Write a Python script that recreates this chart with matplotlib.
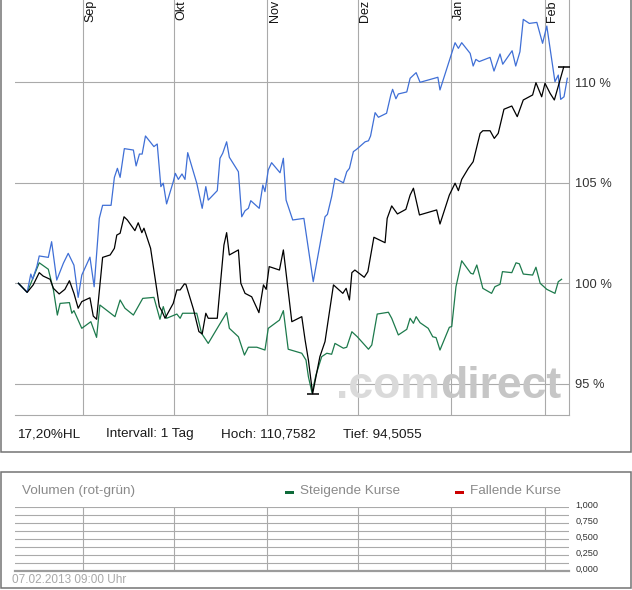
import matplotlib
matplotlib.use("Agg")
import matplotlib.pyplot as plt
import numpy as np
import pandas as pd
from matplotlib.patches import Rectangle
from matplotlib.transforms import ScaledTranslation

plt.rcParams['font.family'] = ['Liberation Sans', 'DejaVu Sans']

# ---------------- data (x = days since 2012-09-01, values in %) ----------------
origin = pd.Timestamp('2012-09-01')

blue_days = [-21.5, -18.6, -17.4, -16.8, -15.4, -14.6, -11.6, -10.5, -8.8, -6.6,
             -5.0, -3.1, -1.7, -0.5, 2.2, 3.6, 5.3, 6.4, 9.2, 10.3,
             11.3, 12.2, 13.6, 16.6, 17.5, 18.6, 19.5, 20.6, 23.4, 24.5,
             25.7, 26.5, 27.6, 29.8, 30.5, 31.5, 32.7, 33.7, 34.6, 37.6,
             39.4, 40.6, 41.4, 44.4, 45.3, 46.2, 47.5, 48.4, 51.4, 52.5,
             53.6, 54.7, 55.5, 58.3, 59.5, 60.2, 61.3, 62.4, 65.2, 66.3,
             67.2, 69.4, 73.1, 76.2, 80.1, 80.9, 82.3, 83.4, 86.2, 87.3,
             88.2, 89.5, 90.6, 93.4, 94.5, 95.2, 96.7, 97.8, 100.5, 101.9,
             102.5, 103.6, 104.4, 107.2, 108.3, 110.3, 111.6, 117.5, 118.2, 123.2,
             124.3, 125.4, 128.2, 129.2, 130.1, 131.2, 134.8, 136.1, 138.1, 139.0,
             142.1, 143.3, 144.7, 145.8, 147.8, 150.3, 152.2, 153.6, 156.3, 157.4,
             158.2, 159.3, 160.4]
blue_vals = [100.0, 99.55, 100.46, 100.2, 100.83, 101.36, 101.29, 102.07, 100.16, 101.0,
             101.49, 100.9, 99.3, 100.41, 101.3, 99.83, 103.23, 103.88, 103.88, 105.27,
             105.72, 105.27, 106.7, 106.63, 105.84, 106.43, 106.43, 107.33, 106.8, 106.93,
             104.81, 104.98, 103.95, 105.05, 105.47, 105.17, 105.44, 105.17, 106.5, 104.98,
             103.73, 104.81, 104.14, 104.61, 106.22, 106.47, 107.04, 106.27, 105.55, 103.31,
             103.61, 103.73, 104.11, 103.73, 104.89, 104.56, 105.64, 106.0, 105.5, 106.22,
             104.14, 103.15, 103.23, 100.08, 103.31, 103.43, 104.31, 105.22, 105.0, 105.55,
             105.72, 106.55, 106.67, 107.04, 107.09, 107.33, 108.49, 108.26, 108.46, 109.37,
             109.65, 109.18, 109.42, 109.52, 110.2, 110.48, 110.0, 110.25, 109.62, 111.97,
             111.69, 111.97, 111.44, 110.81, 111.14, 111.03, 111.24, 110.56, 111.41, 110.9,
             111.57, 110.81, 111.52, 113.13, 112.93, 112.98, 111.94, 112.8, 110.03, 110.36,
             109.15, 109.28, 110.2]

black_days = [-21.5, -18.6, -16.6, -14.6, -13.3, -11.0, -9.9, -8.0, -6.1, -4.6,
              -3.1, -1.7, -0.5, 2.2, 3.3, 4.4, 6.4, 8.9, 10.3, 11.1,
              12.2, 13.5, 14.6, 17.1, 18.2, 19.4, 20.1, 22.3, 25.2, 26.1,
              27.1, 29.8, 31.0, 32.1, 33.5, 34.0, 36.5, 38.3, 39.4, 40.6,
              41.4, 44.4, 46.6, 47.5, 48.4, 51.4, 52.2, 53.6, 55.8, 58.2,
              59.7, 60.6, 61.6, 65.0, 66.3, 69.1, 72.4, 73.5, 74.6, 76.0,
              78.4, 80.1, 82.9, 86.0, 87.1, 88.2, 89.0, 90.0, 93.1, 94.3,
              96.3, 100.0, 100.7, 102.2, 104.1, 106.9, 108.3, 109.4, 111.4, 117.1,
              118.2, 121.3, 123.2, 124.3, 125.4, 127.6, 129.2, 131.5, 132.4, 134.8,
              136.2, 137.5, 139.4, 142.0, 143.8, 145.8, 148.9, 150.0, 151.9, 153.0,
              154.7, 156.1, 159.2]
black_vals = [100.0, 99.55, 99.92, 100.53, 100.36, 100.2, 99.75, 99.47, 99.7, 100.13,
              99.5, 98.76, 99.09, 99.28, 98.37, 98.21, 101.29, 101.41, 101.74, 102.40,
              102.49, 103.31, 103.15, 102.62, 103.01, 102.52, 102.74, 101.74, 98.84, 98.6,
              98.26, 99.0, 99.67, 99.67, 99.97, 99.95, 98.71, 97.6, 97.48, 98.51,
              98.26, 98.26, 101.9, 102.52, 101.41, 101.66, 100.0, 99.5, 99.33, 98.54,
              99.92, 99.7, 100.83, 100.66, 101.66, 98.09, 98.34, 97.18, 96.18, 94.5055,
              96.35, 97.1, 99.92, 99.5, 99.75, 99.17, 100.53, 100.66, 100.30, 100.58,
              102.29, 102.02, 103.23, 103.85, 103.45, 103.68, 104.39, 104.73, 103.40, 103.65,
              102.95, 104.39, 104.98, 104.61, 105.17, 105.72, 106.05, 107.46, 107.59, 107.59,
              107.21, 107.46, 108.66, 108.82, 108.29, 109.12, 109.37, 109.98, 109.28, 109.95,
              109.45, 109.12, 110.7582]

green_days = [-21.5, -18.6, -14.6, -11.6, -9.9, -8.6, -7.7, -4.6, -3.8, -3.1,
              -0.5, 2.5, 4.4, 5.5, 10.5, 12.2, 13.8, 16.6, 19.7, 23.4,
              25.4, 26.5, 27.6, 31.0, 32.1, 32.9, 37.6, 39.2, 41.4, 44.7,
              47.5, 48.4, 51.4, 53.4, 54.7, 57.5, 60.2, 61.3, 65.0, 66.3,
              67.9, 72.4, 73.8, 74.6, 75.8, 77.1, 79.0, 80.7, 82.3, 83.4,
              86.2, 87.3, 89.0, 90.8, 94.5, 95.6, 97.4, 101.1, 102.2, 104.4,
              107.2, 108.3, 109.4, 110.3, 111.6, 114.3, 115.8, 116.9, 118.2, 121.3,
              122.1, 123.5, 125.4, 128.4, 129.2, 130.4, 132.4, 135.3, 136.4, 138.1,
              138.9, 142.0, 143.4, 144.5, 145.8, 148.9, 150.0, 151.4, 153.6, 156.3,
              157.4, 158.5]
green_vals = [100.0, 99.55, 101.02, 100.70, 99.67, 98.42, 99.0, 99.04, 98.51, 98.64,
              97.76, 98.09, 97.31, 98.92, 98.34, 99.17, 98.76, 98.42, 99.25, 99.30,
              98.21, 98.84, 98.26, 98.47, 98.26, 98.51, 98.51, 97.51, 97.01, 97.84,
              98.54, 97.76, 97.34, 96.43, 96.82, 96.82, 96.68, 97.76, 98.17, 98.64,
              96.72, 96.52, 96.18, 95.35, 94.55, 95.44, 96.35, 96.52, 96.47, 97.01,
              96.77, 96.82, 97.59, 97.34, 96.72, 96.93, 98.47, 98.56, 98.26, 97.43,
              97.71, 98.26, 98.01, 98.34, 98.04, 97.76, 97.34, 97.30, 96.68, 97.81,
              97.85, 99.83, 101.12, 100.5, 100.46, 100.91, 99.75, 99.5, 99.83, 99.95,
              100.58, 100.53, 101.02, 100.97, 100.46, 100.41, 100.8, 100.0, 99.7, 99.5,
              100.08, 100.2]

month_labels = ['Sep', 'Okt', 'Nov', 'Dez', 'Jan', 'Feb']
month_starts = pd.date_range('2012-09-01', '2013-02-01', freq='MS')
month_days = [(m - origin).days for m in month_starts]

pct_ticks = [95, 100, 105, 110]
pct_labels = ['95 %', '100 %', '105 %', '110 %']
vol_ticks = [0.0, 0.25, 0.5, 0.75, 1.0]
vol_labels = ['0,000', '0,250', '0,500', '0,750', '1,000']
info_texts = ['17,20%HL', 'Intervall: 1 Tag', 'Hoch: 110,7582', 'Tief: 94,5055']
vol_title = 'Volumen (rot-grün)'
legend_up = 'Steigende Kurse'
legend_down = 'Fallende Kurse'
timestamp = '07.02.2013 09:00 Uhr'

# ---------------- layout ----------------
W, H = 632, 590
fig = plt.figure(figsize=(W / 100, H / 100), dpi=100)
fig.patch.set_facecolor('white')

GRID = '#aaaaaa'
FRAME = '#747474'
BLUE = '#3f6fd6'
GREEN = '#1d7a4c'

# overlay axes in pixel coordinates (for frames and free text)
ov = fig.add_axes([0, 0, 1, 1])
ov.set_xlim(0, W)
ov.set_ylim(H, 0)
ov.axis('off')

# main frame (left, bottom, right)
ov.plot([0.8, 0.8, 631.2, 631.2], [0, 452, 452, 0], color=FRAME, lw=1.1, solid_joinstyle='miter')
# volume frame
ov.add_patch(Rectangle((0.8, 472), 630.4, 116.3, fill=False, ec=FRAME, lw=1.1))

# info row
info_x = [16.7, 106, 221, 343.3]
for x, t in zip(info_x, info_texts):
    ov.text(x, 434.5, t, fontsize=9.7, color='#1a1a1a', va='center', ha='left')

# volume header and legend
ov.text(21.7, 490.7, vol_title, fontsize=9.7, color='#8a8a8a', va='center', ha='left')
ov.add_patch(Rectangle((285, 491), 9, 3, color='#0e6b3a', lw=0))
ov.text(300, 490.7, legend_up, fontsize=9.7, color='#8a8a8a', va='center', ha='left')
ov.add_patch(Rectangle((455, 491), 9, 3, color='#cc0000', lw=0))
ov.text(470, 490.7, legend_down, fontsize=9.7, color='#8a8a8a', va='center', ha='left')
ov.text(11.7, 580, timestamp, fontsize=8.5, color='#a8a8a8', va='center', ha='left')

# ---------------- main chart ----------------
x0, x1 = 15, 569.3
px_per_day = 3.0176
ax = fig.add_axes([x0 / W, 1 - 415 / H, (x1 - x0) / W, 415 / H])
ax.set_xlim((x0 - 83.3) / px_per_day, (x1 - 83.3) / px_per_day)
ax.set_ylim(100 + (283.3 - 415) / 20.1, 100 + 283.3 / 20.1)
ax.patch.set_alpha(0)
for s in ['top', 'left']:
    ax.spines[s].set_visible(False)
for s in ['bottom', 'right']:
    ax.spines[s].set_color(GRID)
    ax.spines[s].set_linewidth(0.8)
ax.set_xticks(month_days)
ax.set_xticklabels([])
ax.yaxis.tick_right()
ax.set_yticks(pct_ticks)
ax.set_yticklabels(pct_labels)
ax.tick_params(axis='both', length=0)
ax.tick_params(axis='y', labelsize=9.3, labelcolor='#333333', pad=4.2)
ax.grid(True, color=GRID, lw=0.8)
ax.set_axisbelow(True)

for d, lab in zip(month_days, month_labels):
    ax.annotate(lab, xy=(d, 1.0), xycoords=('data', 'axes fraction'),
                xytext=(1.5, 0), textcoords='offset pixels',
                rotation=90, ha='left', va='top', fontsize=9, color='#111111')

# watermark
wm_y = 100 + (283.3 - 398) / 20.1
wm_x = (440 - 83.3) / px_per_day
ax.text(wm_x, wm_y, '.com', fontsize=32, fontweight='bold', color='#dadada',
        ha='right', va='baseline', zorder=1.5)
ax.text(wm_x, wm_y, 'direct', fontsize=32, fontweight='bold', color='#c6c6c6',
        ha='left', va='baseline', zorder=1.5)

ax.plot(green_days, green_vals, color=GREEN, lw=0.9, zorder=3)
ax.plot(blue_days, blue_vals, color=BLUE, lw=0.9, zorder=3)
ax.plot(black_days, black_vals, color='black', lw=0.9, zorder=4)

# high / low markers of the main series
bv = np.array(black_vals)
for i in (int(np.argmax(bv)), int(np.argmin(bv))):
    ax.plot(black_days[i], black_vals[i], marker='_', ms=8, mew=1.1, color='black', zorder=5)

# ---------------- volume chart ----------------
vx = fig.add_axes([x0 / W, 1 - 570.7 / H, (x1 - x0) / W, 64 / H])
vx.set_xlim(ax.get_xlim())
vx.set_ylim(0, 1)
vx.patch.set_alpha(0)
for s in ['top', 'left', 'right']:
    vx.spines[s].set_visible(False)
vx.spines['bottom'].set_color('#9c9c9c')
vx.spines['bottom'].set_linewidth(1.6)
vx.set_xticks(month_days)
vx.set_xticklabels([])
vx.yaxis.tick_right()
vx.set_yticks(vol_ticks)
vx.set_yticklabels(vol_labels)
vx.set_yticks(np.arange(0, 1.0001, 0.125), minor=True)
vx.tick_params(axis='both', which='both', length=0)
vx.tick_params(axis='y', labelsize=6.6, labelcolor='#333333', pad=4.2)
vx.grid(True, which='both', color=GRID, lw=0.8)
vx.set_axisbelow(True)
for lab in vx.get_yticklabels():
    lab.set_transform(lab.get_transform() + ScaledTranslation(0, 2.5 / 100, fig.dpi_scale_trans))

fig.savefig('out.png', dpi=100, facecolor='white')
